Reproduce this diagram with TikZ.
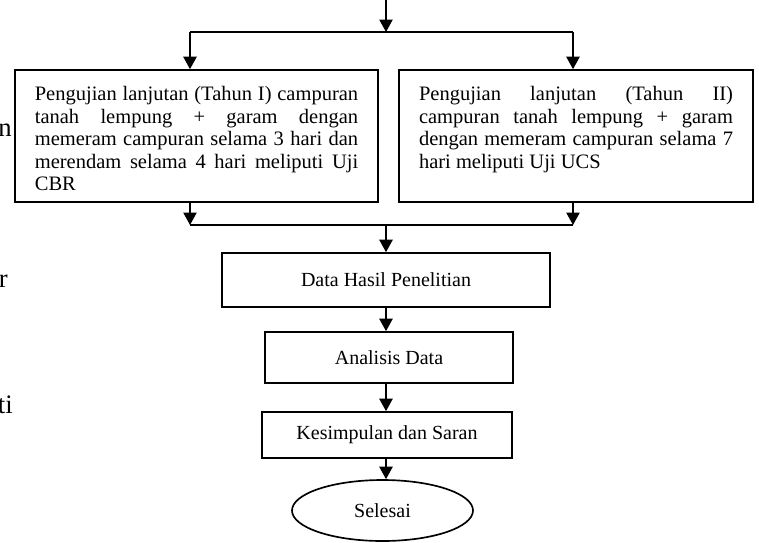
\documentclass[tikz,border=0pt]{standalone}
\usepackage{fontspec}
\setmainfont{Liberation Serif}
\usetikzlibrary{arrows.meta,shapes.geometric}
\hbadness=10000
\vbadness=10000

\begin{document}
\begin{tikzpicture}[x=0.6pt,y=0.6pt,
  font=\fontsize{12}{13.5}\selectfont,
  garis/.style={line width=0.9pt},
  panah/.style={line width=0.9pt,-{Triangle[length=7.5pt,width=8pt]}},
  uji/.style={draw,line width=1pt,inner xsep=12pt,inner ysep=10pt,font=\fontsize{12.3}{13.5}\selectfont},
  kotak/.style={draw,line width=1pt,align=center},
  sisa/.style={font=\fontsize{16}{18}\selectfont,anchor=base east,inner sep=0pt}]
\useasboundingbox (0,0) rectangle (759,-542);
\node [uji] (b1) at (196.5,-136) {\parbox[c][59.2pt][t]{194pt}{Pengujian lanjutan (Tahun I) campuran\linebreak
  tanah lempung + garam dengan\linebreak
  memeram campuran selama 3 hari dan\linebreak
  merendam selama 4 hari meliputi Uji\linebreak
  CBR}};
\node [uji] (b2) at (576,-136) {\parbox[c][59.2pt][t]{188.4pt}{Pengujian lanjutan (Tahun II)\linebreak
  campuran tanah lempung + garam\linebreak
  dengan memeram campuran selama 7\linebreak
  hari meliputi Uji UCS}};
\node [kotak,minimum width=196.8pt,minimum height=32.4pt] (d1) at (386,-280) {Data Hasil Penelitian};
\node [kotak,minimum width=148.8pt,minimum height=30.6pt] (d2) at (389,-357.5) {Analisis Data};
\node [kotak,minimum width=150pt,minimum height=27.6pt] (d3) at (387,-435) {Kesimpulan dan Saran};
\node [draw,ellipse,line width=1pt,minimum width=108.6pt,minimum height=36.6pt,inner sep=0pt] (sls) at (382.5,-510.5) {Selesai};
\node [sisa] (s1) at (12,-136) {n};
\node [sisa] (s2) at (8,-287) {r};
\node [sisa] (s3) at (13,-413) {ti};
\coordinate (atas) at (386,0);
\coordinate (cabang) at (386,-32);
\coordinate (kiri) at (190,-32);
\coordinate (kanan) at (573,-32);
\coordinate (gabung) at (386,-225);
\draw [panah] (atas) -- (cabang);
\draw [garis] (kiri) -- (kanan);
\draw [panah] (kiri) -- (kiri |- b1.north);
\draw [panah] (kanan) -- (kanan |- b2.north);
\draw [panah] (kiri |- b1.south) -- (kiri |- gabung);
\draw [panah] (kanan |- b2.south) -- (kanan |- gabung);
\draw [garis] (kiri |- gabung) -- (kanan |- gabung);
\draw [panah] (gabung) -- (d1.north);
\draw [panah] (d1.south) -- (d1.south |- d2.north);
\draw [panah] (d1.south |- d2.south) -- (d1.south |- d3.north);
\draw [panah] (d1.south |- d3.south) -- (d1.south |- sls.north);
\end{tikzpicture}
\end{document}
